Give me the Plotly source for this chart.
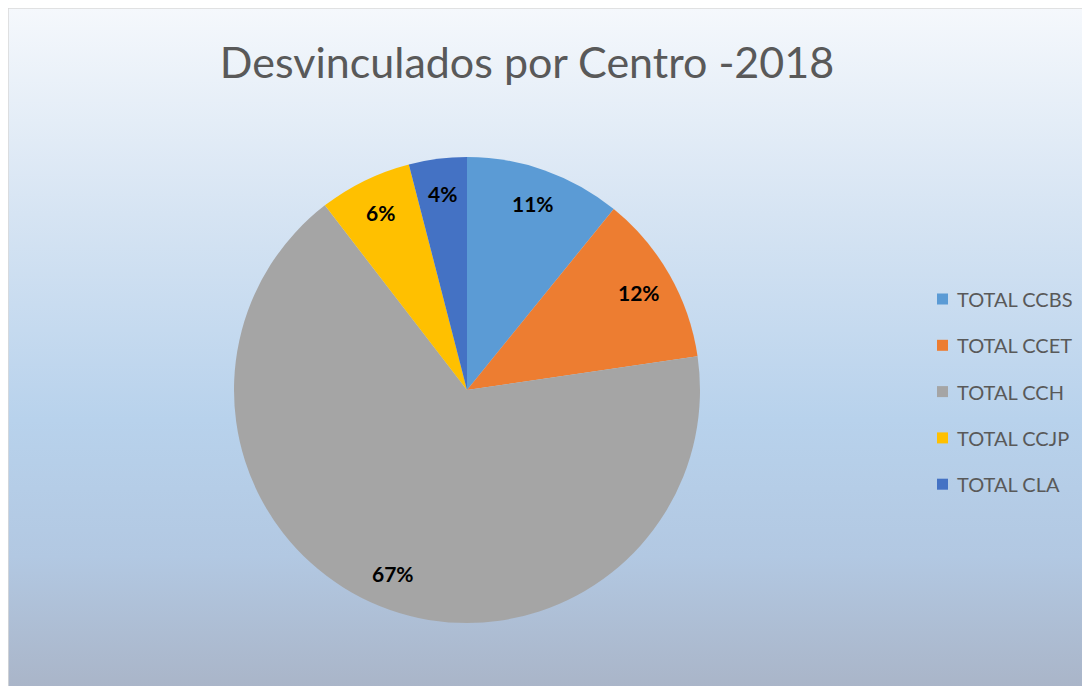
import base64
import math
import plotly.graph_objects as go

# data
centros = ['TOTAL CCBS', 'TOTAL CCET', 'TOTAL CCH', 'TOTAL CCJP', 'TOTAL CLA']
desvinculados = [54, 59, 333, 32, 20]
cores = ['#5b9bd5', '#ed7d31', '#a5a5a5', '#ffc000', '#4472c4']
titulo = 'Desvinculados por Centro -2018'

W, H = 1090, 686
FONT = 'Lato'
CX, CY, R = 459, 382, 233   # pie centre / radius in pixels (page body has 8px margin)

# gradient background like the Excel chart area
svg = (
    '<svg xmlns="http://www.w3.org/2000/svg" width="100" height="100" preserveAspectRatio="none">'
    '<defs><linearGradient id="g" x1="0" y1="0" x2="0" y2="1">'
    '<stop offset="0" stop-color="#f5f8fc"/>'
    '<stop offset="0.3" stop-color="#d6e4f3"/>'
    '<stop offset="0.6" stop-color="#b8d2ec"/>'
    '<stop offset="0.8" stop-color="#b2c8e2"/>'
    '<stop offset="1" stop-color="#a9b4c7"/>'
    '</linearGradient></defs><rect width="100" height="100" fill="url(#g)"/></svg>'
)
bg = 'data:image/svg+xml;base64,' + base64.b64encode(svg.encode()).decode()

fig = go.Figure(go.Pie(
    labels=centros,
    values=desvinculados,
    marker=dict(colors=cores, line=dict(width=0)),
    sort=False,
    direction='clockwise',
    rotation=0,
    textinfo='none',
    domain=dict(x=[(CX - R) / W, (CX + R) / W], y=[(H - CY - R) / H, (H - CY + R) / H]),
    showlegend=False,
    hoverinfo='label+value+percent',
))

# data labels placed like Excel's "best fit" (along each slice bisector)
total = sum(desvinculados)
acum = 0
for v in desvinculados:
    ang = 2 * math.pi * (acum + v / 2) / total
    acum += v
    x = CX + 0.85 * R * math.sin(ang)
    y = CY - 0.85 * R * math.cos(ang)
    fig.add_annotation(x=x / W, y=1 - y / H, xref='paper', yref='paper',
                       text=f'{round(100 * v / total)}%', showarrow=False,
                       xanchor='center', yanchor='middle',
                       font=dict(family=FONT, size=21, color='black', weight='bold'))

fig.add_layout_image(dict(source=bg, xref='paper', yref='paper', x=0, y=1,
                          sizex=1, sizey=1, sizing='stretch',
                          xanchor='left', yanchor='top', layer='below'))
fig.add_shape(type='rect', xref='paper', yref='paper', x0=0, y0=-0.01, x1=1.01, y1=1,
              line=dict(color='#d9d9d9', width=1.5), fillcolor='rgba(0,0,0,0)', layer='below')

# manual legend (evenly spaced like the original)
for i, (nome, cor) in enumerate(zip(centros, cores)):
    yc = 1 - (291 + i * 46.3) / H
    fig.add_shape(type='rect', xref='paper', yref='paper',
                  x0=929 / W, x1=940 / W, y0=yc - 5.5 / H, y1=yc + 5.5 / H,
                  fillcolor=cor, line=dict(width=0))
    fig.add_annotation(x=947 / W, y=yc, xref='paper', yref='paper', text=nome,
                       showarrow=False, xanchor='left', yanchor='middle',
                       font=dict(family=FONT, size=20, color='#595959'))

fig.update_layout(
    width=W, height=H,
    margin=dict(l=0, r=0, t=0, b=0),
    paper_bgcolor='white',
    plot_bgcolor='rgba(0,0,0,0)',
    title=dict(text=titulo, x=519 / W, xanchor='center', y=1 - 55 / H, yanchor='middle',
               font=dict(family=FONT, size=43, color='#595959')),
)

fig.write_html('out.html')
